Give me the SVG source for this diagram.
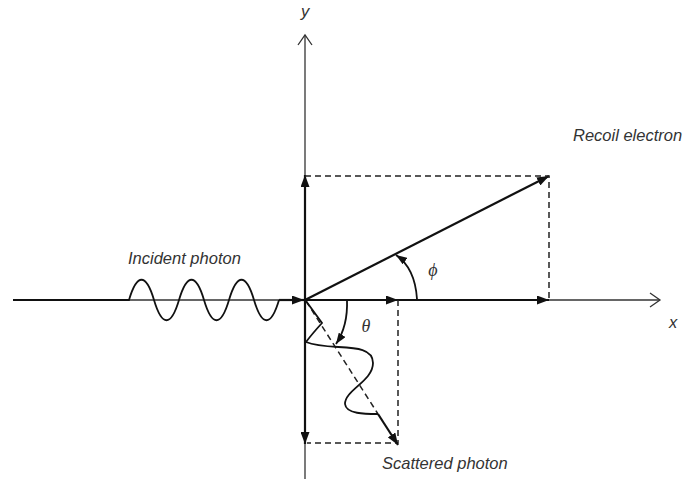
<svg xmlns="http://www.w3.org/2000/svg" width="683" height="481" viewBox="0 0 683 481">
<style>
.axis{stroke:#333;stroke-width:1.3;fill:none}
.vec{stroke:#111;stroke-width:2.2;fill:none}
.thin{stroke:#111;stroke-width:1.8;fill:none}
.dash{stroke:#222;stroke-width:1.5;fill:none;stroke-dasharray:6,4}
.lbl{font-family:"Liberation Sans",Arial,sans-serif;font-style:italic;font-size:16.5px;fill:#333}
.greek{font-family:"Liberation Serif","Times New Roman",serif;font-style:italic;font-size:18px;fill:#333}
</style>
<defs>
<marker id="ah" viewBox="0 0 12 9" refX="12" refY="4.5" markerWidth="12" markerHeight="9" markerUnits="userSpaceOnUse" orient="auto">
<path d="M0,0 L12,4.5 L0,9 z" fill="#111"/>
</marker>
<marker id="ahs" viewBox="0 0 11 8" refX="11" refY="4" markerWidth="11" markerHeight="8" markerUnits="userSpaceOnUse" orient="auto">
<path d="M0,0 L11,4 L0,8 z" fill="#111"/>
</marker>
</defs>
<rect width="683" height="481" fill="#fff"/>
<g id="axes">
<line class="axis" x1="13" y1="300" x2="660" y2="300"/>
<polyline class="axis" points="650,293 660,300 650,307"/>
<line class="axis" x1="305" y1="35" x2="305" y2="479"/>
<polyline class="axis" points="298,45 305,35 312,45"/>
<text class="lbl" x="305" y="17" text-anchor="middle">y</text>
<text class="lbl" x="673" y="328" text-anchor="middle">x</text>
</g>
<g id="connectors">
<g id="incident-photon">
<path class="thin" d="M13,300 L129,300 c8,-27 17,-27 25,0 c8,27 17,27 25,0 c8,-27 17,-27 25,0 c8,27 17,27 25,0 c8,-27 17,-27 25,0 c8,27 17,27 25,0 L279,300"/>
<line class="vec" x1="279" y1="300" x2="304" y2="300" marker-end="url(#ah)"/>
</g>
<line class="vec" x1="305" y1="300" x2="305" y2="175" marker-end="url(#ah)"/>
<line class="vec" x1="305" y1="300" x2="305" y2="444" marker-end="url(#ah)"/>
<line class="vec" x1="305" y1="300" x2="398" y2="300" marker-end="url(#ah)"/>
<line class="vec" x1="305" y1="300" x2="549" y2="300" marker-end="url(#ah)"/>
<line class="vec" x1="305" y1="300" x2="549" y2="176" marker-end="url(#ah)"/>
<path class="dash" d="M305,176 L549,176 L549,298"/>
<path class="dash" d="M398,300 L398,443 L307,443"/>
<g id="scattered-photon">
<line class="dash" x1="306" y1="301" x2="378" y2="414" stroke-width="1.6"/>
<line class="vec" x1="378" y1="414" x2="398" y2="445" marker-end="url(#ah)"/>
<path class="thin" d="M306,301 L322,323 Q312,334 306,342 C330,352 373,340 373,363 C373,381 345,390 345,404 C346,414 365,414 378,414"/>
</g>
<path class="thin" d="M347,300 Q348,326 336,344" marker-end="url(#ahs)"/>
<path class="thin" d="M417,299 Q415,268 396,255" marker-end="url(#ahs)"/>
</g>
<g id="labels">
<text class="lbl" x="128" y="264">Incident photon</text>
<text class="lbl" x="573" y="141" font-size="16">Recoil electron</text>
<text class="lbl" x="382" y="469">Scattered photon</text>
<text class="greek" x="366" y="332" text-anchor="middle">θ</text>
<text class="greek" x="433" y="276" text-anchor="middle">ϕ</text>
</g>
</svg>
